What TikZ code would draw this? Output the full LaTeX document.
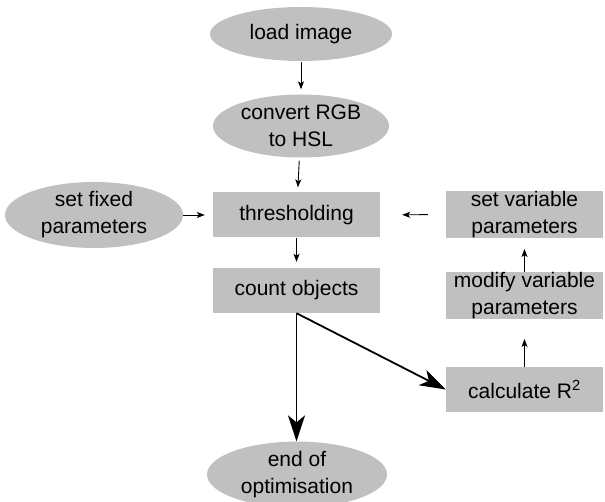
\documentclass[tikz,border=0pt]{standalone}
\usepackage{fontspec}
\setmainfont{Liberation Sans}
\usetikzlibrary{shapes.geometric,arrows.meta}
\definecolor{boxgray}{RGB}{192,192,192}
\begin{document}
\begin{tikzpicture}[x=1pt,y=-1pt,
  every node/.style={font=\fontsize{21}{27}\selectfont, align=center, inner sep=0pt},
  oval/.style={ellipse, fill=boxgray, draw=none},
  stepbox/.style={rectangle, fill=boxgray, draw=none, minimum width=167pt, minimum height=45pt},
  sidebox/.style={rectangle, fill=boxgray, draw=none, minimum width=157pt, minimum height=45pt},
  thinarrow/.style={-{Stealth[length=8pt,width=6pt,inset=2pt]}, line width=0.9pt},
  thickarrow/.style={-{Stealth[length=26pt,width=17pt,inset=7pt]}, line width=1.8pt}
]
\useasboundingbox (0,0) rectangle (605,502);

\node[oval, minimum width=182pt, minimum height=54pt] (load) at (301,34) {load image};
\node[oval, minimum width=176pt, minimum height=63pt] (conv) at (301,126) {convert RGB\\to HSL};
\node[oval, minimum width=178pt, minimum height=66pt] (fixed) at (94,215) {set fixed\\parameters};
\node[stepbox] (thr) at (296.5,215) {thresholding};
\node[stepbox] (count) at (296.5,290.5) {count objects};
\node[sidebox] (setvar) at (524.5,214.5) {set variable\\parameters};
\node[sidebox] (modify) at (524.5,295.5) {modify variable\\parameters};
\node[sidebox] (calc) at (524.5,389.5) {calculate R\textsuperscript{2}};
\node[oval, minimum width=180pt, minimum height=57pt] (end) at (297,474.5) {end of\\optimisation};

\draw[thinarrow, shorten <=1pt, shorten >=5pt] (load) -- (conv);
\draw[thinarrow, shorten <=3pt, shorten >=5pt] (conv) -- (thr);
\draw[thinarrow, shorten >=8pt] (fixed.east) -- (thr.west);
\draw[thinarrow, shorten <=18pt, shorten >=22pt] (setvar.west) -- (thr.east);
\draw[thinarrow, shorten >=6pt] (thr) -- (count);
\draw[thinarrow, shorten >=20pt] (calc) -- (modify);
\draw[thinarrow, shorten >=11pt] (modify) -- (setvar);
\draw[thickarrow] (count.south) -- (count.south |- end.north);
\draw[thickarrow] (count.south) -- (calc.west);
\end{tikzpicture}
\end{document}
